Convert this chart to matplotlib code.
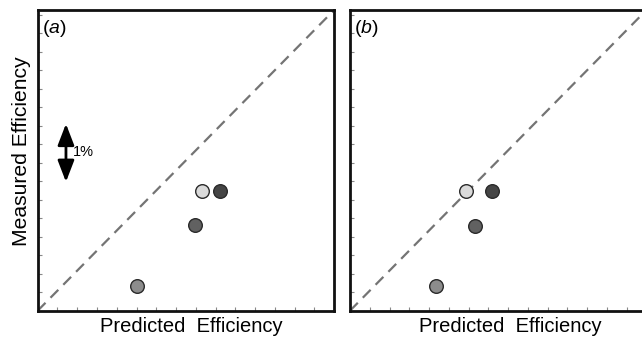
import matplotlib
matplotlib.use("Agg")
import matplotlib.pyplot as plt
from matplotlib.ticker import MultipleLocator, NullFormatter

plt.rcParams['font.family'] = ['Liberation Sans', 'DejaVu Sans']
plt.rcParams['mathtext.fontset'] = 'custom'
plt.rcParams['mathtext.it'] = 'Liberation Sans:italic'
plt.rcParams['mathtext.rm'] = 'Liberation Sans'

# data (arbitrary units)
colors = ['#dadada', '#454545', '#616161', '#8c8c8c']
pred_a = [8.33, 9.21, 7.94, 5.03]
meas_a = [6.47, 6.47, 4.63, 1.35]
pred_b = [5.89, 7.16, 6.31, 4.33]
meas_b = [6.45, 6.45, 4.60, 1.35]
panel_labels = ['a', 'b']
xlabel = 'Predicted  Efficiency'
ylabel = 'Measured Efficiency'
xmax, ymax = 15.0, 16.25

W, H = 642, 341
fig = plt.figure(figsize=(W / 100, H / 100), dpi=100)
axw, axh = 296.5, 300.7
ax_a = fig.add_axes([37.7 / W, 30.3 / H, axw / W, axh / H])
ax_b = fig.add_axes([350.0 / W, 30.3 / H, axw / W, axh / H])

for ax, px, my, lab, lx in [(ax_a, pred_a, meas_a, 'a', 0.519),
                            (ax_b, pred_b, meas_b, 'b', 0.54)]:
    ax.set_xlim(0, xmax)
    ax.set_ylim(0, ymax)
    ax.plot([0, xmax], [0, ymax], color='#747474', lw=1.6, dashes=(5, 3.2), zorder=1)
    for x, y, c in zip(px, my, colors):
        ax.plot(x, y, 'o', ms=9.8, mfc=c, mec='#2a2a2a', mew=1.0, zorder=3)
    for s in ax.spines.values():
        s.set_linewidth(2.0)
        s.set_color('#111111')
    ax.xaxis.set_major_locator(MultipleLocator(1))
    ax.yaxis.set_major_locator(MultipleLocator(1))
    ax.xaxis.set_major_formatter(NullFormatter())
    ax.yaxis.set_major_formatter(NullFormatter())
    ax.tick_params(direction='in', length=3, width=0.8, color='#888888',
                   top=False, right=False)
    ax.set_xlabel(xlabel, fontsize=14.5)
    ax.xaxis.set_label_coords(lx, -0.022)
    ax.xaxis.label.set_va('top')
    ax.text(0.014, 0.975, r'($\it{' + lab + r'}$)', transform=ax.transAxes,
            ha='left', va='top', fontsize=14)

ax_a.set_ylabel(ylabel, fontsize=15.2)
ax_a.yaxis.set_label_coords(-0.022, 0.531)

# 1% scale arrow in panel a
ax_a.annotate('', xy=(1.43, 10.1), xytext=(1.43, 6.96),
              arrowprops=dict(arrowstyle='<|-|>,head_length=1.3,head_width=0.5',
                              color='black', lw=2, shrinkA=0, shrinkB=0))
ax_a.text(1.77, 8.55, '1%', fontsize=10.5, ha='left', va='center')

fig.savefig('out.png', dpi=100)
